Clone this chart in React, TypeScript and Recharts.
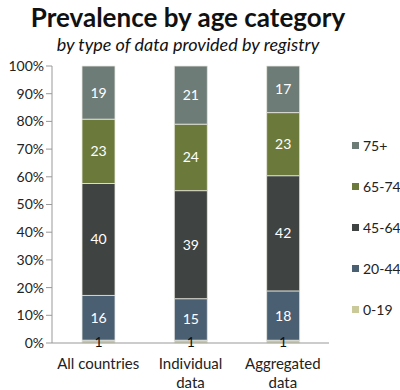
import { BarChart, Bar, XAxis, YAxis, LabelList } from 'recharts'

const categories = ['All countries', 'Individual data', 'Aggregated data']
const age0to19 = [1, 1, 1]
const age20to44 = [16, 15, 18]
const age45to64 = [40, 39, 42]
const age65to74 = [23, 24, 23]
const age75plus = [19, 21, 17]
const yTicks = [0, 0.1, 0.2, 0.3, 0.4, 0.5, 0.6, 0.7, 0.8, 0.9, 1]
const bandTicks = [0, 1, 2, 3]

const SERIES = [
  { key: 'a75', name: '75+', color: '#6e7c77', label: '#fff' },
  { key: 'a65', name: '65-74', color: '#6b7a3b', label: '#fff' },
  { key: 'a45', name: '45-64', color: '#3f4341', label: '#fff' },
  { key: 'a20', name: '20-44', color: '#4b5f73', label: '#fff' },
  { key: 'a0', name: '0-19', color: '#c9c99a', label: '#111' },
]

const data = categories.map((cat, i) => ({
  cat,
  idx: i + 0.5,
  a0: age0to19[i],
  a20: age20to44[i],
  a45: age45to64[i],
  a65: age65to74[i],
  a75: age75plus[i],
}))

const FONT = 'Lato, "Open Sans", sans-serif'

function CatTick({ x, y, payload }: any) {
  const lines = payload.value === 'All countries' ? [payload.value] : String(payload.value).split(' ')
  return (
    <text x={x} y={y} textAnchor="middle" fontFamily={FONT} fontSize={15} fill="#222">
      {lines.map((l: string, i: number) => (
        <tspan key={i} x={x} dy={i === 0 ? 18 : 19}>{l}</tspan>
      ))}
    </text>
  )
}

export default function App() {
  return (
    <div style={{ position: 'relative', width: 400, height: 390, background: '#fff' }}>
      <style>{'body{margin:0}'}</style>
      <div style={{ position: 'absolute', top: 1, left: 0, width: 376, textAlign: 'center', fontFamily: FONT, fontWeight: 700, fontSize: 26, color: '#111', whiteSpace: 'nowrap' }}>
        Prevalence by age category
      </div>
      <div style={{ position: 'absolute', top: 33, left: 0, width: 376, textAlign: 'center', fontFamily: FONT, fontStyle: 'italic', fontSize: 18, color: '#111', whiteSpace: 'nowrap' }}>
        by type of data provided by registry
      </div>
      <BarChart
        width={400}
        height={390}
        data={data}
        stackOffset="expand"
        margin={{ top: 66, right: 71, left: 0, bottom: 0 }}
        style={{ position: 'absolute', top: 0, left: 0 }}
      >
        <XAxis
          xAxisId="band"
          dataKey="idx"
          type="number"
          domain={[0, 3]}
          ticks={bandTicks}
          height={0}
          axisLine={false}
          tickLine={{ stroke: '#999' }}
          tickSize={6}
          tickFormatter={() => ''}
        />
        <XAxis
          xAxisId="cat"
          dataKey="cat"
          height={47}
          axisLine={{ stroke: '#999' }}
          tickLine={false}
          tick={<CatTick />}
          interval={0}
        />
        <YAxis
          width={52}
          ticks={yTicks}
          domain={[0, 1]}
          interval={0}
          tickFormatter={(v: number) => `${Math.round(v * 100)}%`}
          axisLine={{ stroke: '#999' }}
          tickLine={{ stroke: '#999' }}
          tickSize={6}
          tick={{ fontFamily: FONT, fontSize: 14, fill: '#222' }}
        />
        {[...SERIES].reverse().map((s) => (
          <Bar
            key={s.key}
            xAxisId="cat"
            dataKey={s.key}
            name={s.name}
            stackId="a"
            fill={s.color}
            stroke="#e8e8e0"
            strokeWidth={0.8}
            barSize={33}
            isAnimationActive={false}
          >
            <LabelList dataKey={s.key} position="center" fill={s.label} fontFamily={FONT} fontSize={14} />
          </Bar>
        ))}
      </BarChart>
      <div style={{ position: 'absolute', left: 352, top: 137, display: 'flex', flexDirection: 'column', gap: 24 }}>
        {SERIES.map((s) => (
          <div key={s.key} style={{ display: 'flex', alignItems: 'center', gap: 4, fontFamily: FONT, fontSize: 14, color: '#222', height: 17, whiteSpace: 'nowrap' }}>
            <span style={{ width: 7, height: 7, background: s.color, display: 'inline-block', flexShrink: 0 }} />
            {s.name}
          </div>
        ))}
      </div>
    </div>
  )
}
